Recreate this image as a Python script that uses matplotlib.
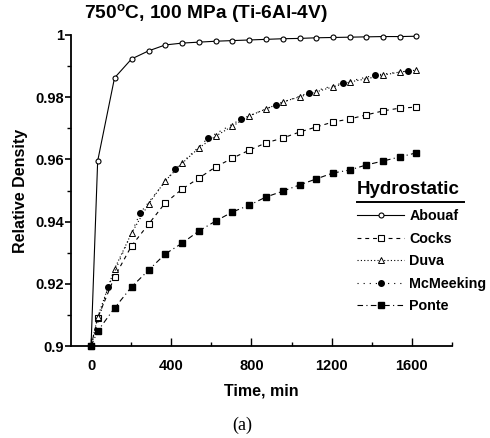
import matplotlib
matplotlib.use("Agg")
import matplotlib.pyplot as plt
from matplotlib.lines import Line2D

plt.rcParams["font.family"] = ["Liberation Sans", "DejaVu Sans"]
plt.rcParams["mathtext.fontset"] = "custom"
plt.rcParams["mathtext.bf"] = "Liberation Sans:bold"
plt.rcParams["mathtext.rm"] = "Liberation Sans"

# Donnees (temps en min, densite relative)
time = [0, 33, 117, 202, 287, 370, 455, 538, 622, 705, 790,
        872, 957, 1040, 1122, 1205, 1290, 1372, 1457, 1540, 1622]
abouaf = [0.900, 0.9595, 0.9862, 0.9923, 0.9949, 0.9968, 0.9974, 0.9977, 0.9980, 0.9982, 0.9984,
          0.9986, 0.9988, 0.9989, 0.9991, 0.9992, 0.9993, 0.9994, 0.9995, 0.9995, 0.9996]
cocks = [0.900, 0.9090, 0.9222, 0.9322, 0.9392, 0.9460, 0.9505, 0.9540, 0.9576, 0.9604, 0.9630,
         0.9653, 0.9669, 0.9688, 0.9704, 0.9720, 0.9730, 0.9743, 0.9756, 0.9765, 0.9768]
duva = [0.900, 0.9093, 0.9248, 0.9363, 0.9457, 0.9531, 0.9588, 0.9637, 0.9675, 0.9707, 0.9740,
        0.9762, 0.9785, 0.9801, 0.9817, 0.9833, 0.9849, 0.9859, 0.9871, 0.9881, 0.9887]
ponte = [0.900, 0.9048, 0.9122, 0.9190, 0.9244, 0.9296, 0.9331, 0.9370, 0.9402, 0.9431, 0.9453,
         0.9479, 0.9498, 0.9518, 0.9537, 0.9556, 0.9566, 0.9582, 0.9595, 0.9608, 0.9621]
time_mcm = [0, 85, 245, 420, 585, 750, 920, 1085, 1255, 1415, 1580]
mcmeeking = [0.900, 0.9190, 0.9428, 0.9569, 0.9669, 0.9730, 0.9775, 0.9814, 0.9846, 0.9871, 0.9884]

x_ticks = [0, 400, 800, 1200, 1600]
y_ticks = [0.9, 0.92, 0.94, 0.96, 0.98, 1.0]
y_labels = ["0.9", "0.92", "0.94", "0.96", "0.98", "1"]


def main():
    fig = plt.figure(figsize=(4.9, 4.38), dpi=100)
    ax = fig.add_axes([0.1449, 0.2100, 0.7775, 0.7101])

    lw = 0.8
    ax.plot(time, abouaf, color="black", lw=lw, ls="-", marker="o", ms=3.6,
            mfc="white", mec="black", mew=0.8, label="Abouaf", clip_on=False, zorder=3)
    ax.plot(time, cocks, color="black", lw=lw, ls=(0, (3.5, 3.5)), marker="s", ms=4.0,
            mfc="white", mec="black", mew=0.8, label="Cocks", clip_on=False, zorder=3)
    ax.plot(time, duva, color="black", lw=lw, ls=(0, (1, 2)), marker="^", ms=4.3,
            mfc="white", mec="black", mew=0.7, label="Duva", clip_on=False, zorder=3)
    ax.plot(time_mcm, mcmeeking, color="black", lw=lw, ls=(0, (1, 4.5)), marker="o", ms=4.0,
            mfc="black", mec="black", label="McMeeking", clip_on=False, zorder=4)
    ax.plot(time, ponte, color="black", lw=lw, ls=(0, (5, 3, 1, 3)), marker="s", ms=4.2,
            mfc="black", mec="black", label="Ponte", clip_on=False, zorder=4)

    ax.set_xlim(-100, 1800)
    ax.set_ylim(0.9, 1.0)
    ax.set_xticks(x_ticks)
    ax.set_xticks([200, 600, 1000, 1400, 1800], minor=True)
    ax.set_yticks(y_ticks)
    ax.set_yticklabels(y_labels)
    ax.set_yticks([0.91, 0.93, 0.95, 0.97, 0.99], minor=True)

    for s in ["top", "right"]:
        ax.spines[s].set_visible(False)
    for s in ["left", "bottom"]:
        ax.spines[s].set_linewidth(1.3)

    ax.tick_params(axis="y", which="major", direction="out", length=4, width=1.2, pad=1,
                   labelsize=10.5)
    ax.tick_params(axis="y", which="minor", direction="out", length=3, width=1.0)
    ax.tick_params(axis="x", which="major", direction="in", length=6, width=1.0, pad=9,
                   labelsize=10.5)
    ax.tick_params(axis="x", which="minor", direction="in", length=3, width=1.0)
    for lab in ax.get_xticklabels() + ax.get_yticklabels():
        lab.set_fontweight("bold")

    ax.set_xlabel("Time, min", fontsize=11.5, fontweight="bold", labelpad=8)
    ax.set_ylabel("Relative Density", fontsize=11.5, fontweight="bold", labelpad=5)

    fig.text(84 / 490, 1 - 14 / 438, "750$^{\\mathbf{o}}$C, 100 MPa (Ti-6Al-4V)",
             fontsize=13.8, fontweight="bold", ha="left", va="center")
    fig.text(242 / 490, 1 - 425 / 438, "(a)", fontsize=13,
             family=["Liberation Serif", "DejaVu Serif"], ha="center", va="center")

    # Legende avec titre souligne
    fig.text(357 / 490, 1 - 190 / 438, "Hydrostatic", fontsize=13.5, fontweight="bold",
             ha="left", va="center")
    fig.add_artist(Line2D([357 / 490, 464 / 490], [1 - 202 / 438, 1 - 202 / 438],
                          color="black", lw=1.4, transform=fig.transFigure))
    ax.legend(loc="upper left", bbox_to_anchor=(357 / 490, 1 - 209 / 438),
              bbox_transform=fig.transFigure, frameon=False,
              prop={"size": 10.3, "weight": "bold"},
              handlelength=3.3, handletextpad=0.35, labelspacing=0.6, borderpad=0,
              borderaxespad=0)

    fig.savefig("out.png", dpi=100)
    plt.close(fig)


if __name__ == "__main__":
    main()
